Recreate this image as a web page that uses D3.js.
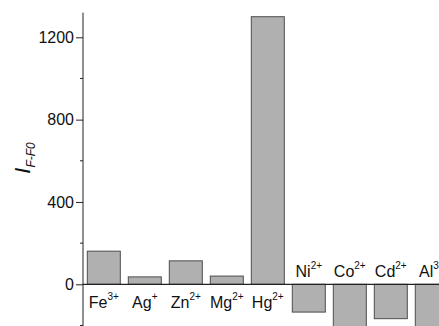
<!DOCTYPE html>
<html>
<head>
<meta charset="utf-8">
<script src="https://cdn.jsdelivr.net/npm/d3@7"></script>
<style>
  html, body { margin: 0; padding: 0; background: #fff; }
  svg { display: block; font-family: "Liberation Sans", Arial, sans-serif; }
</style>
</head>
<body>
<div id="chart"></div>
<script>
// ions on the x axis, their charge written as a superscript
const ions = ['Fe', 'Ag', 'Zn', 'Mg', 'Hg', 'Ni', 'Co', 'Cd', 'Al'];
const charges = ['3+', '+', '2+', '2+', '2+', '2+', '2+', '2+', '3+'];
// I(F-F0) (Co and Al run off the bottom edge)
const values = [161, 36, 114, 40, 1300, -135, -250, -167, -290];
const majorTicks = [0, 400, 800, 1200];
const minorTicks = [-200, 200, 600, 1000];

const width = 439, height = 326;
const axisX = 83;

const svg = d3.select('#chart').append('svg')
    .attr('width', width)
    .attr('height', height);

const x = d3.scaleBand()
    .domain(ions)
    .range([axisX, axisX + 369.6])
    .paddingInner(0.195)
    .paddingOuter(0.105);

const y = d3.scaleLinear()
    .domain([0, 1200])
    .range([284.3, 37.3]);

// bars
svg.append('g').selectAll('rect')
    .data(ions)
    .join('rect')
    .attr('x', (d) => x(d))
    .attr('width', x.bandwidth())
    .attr('y', (d, i) => y(Math.max(0, values[i])))
    .attr('height', (d, i) => Math.abs(y(values[i]) - y(0)))
    .attr('fill', '#b0b0b0')
    .attr('stroke', '#4d4d4d')
    .attr('stroke-width', 1);

// zero line across the plot
svg.append('line')
    .attr('x1', axisX)
    .attr('x2', width)
    .attr('y1', y(0))
    .attr('y2', y(0))
    .attr('stroke', '#222')
    .attr('stroke-width', 1.2);

// y axis
const yAxis = d3.axisLeft(y)
    .tickValues(majorTicks)
    .tickFormat(d3.format('d'))
    .tickSize(7)
    .tickPadding(2)
    .tickSizeOuter(0);

const ag = svg.append('g')
    .attr('transform', `translate(${axisX},0)`)
    .call(yAxis);
ag.select('.domain').remove();
ag.selectAll('line').attr('stroke', '#222');
ag.selectAll('text')
    .attr('fill', '#111')
    .attr('font-size', '16px');

svg.append('line')
    .attr('x1', axisX).attr('x2', axisX)
    .attr('y1', y(1320)).attr('y2', y(-220))
    .attr('stroke', '#222')
    .attr('stroke-width', 1);

svg.append('g').selectAll('line')
    .data(minorTicks)
    .join('line')
    .attr('x1', axisX - 3)
    .attr('x2', axisX)
    .attr('y1', (d) => y(d))
    .attr('y2', (d) => y(d))
    .attr('stroke', '#222');

// category labels: below the line for positive bars, above for negative
const labels = svg.append('g').selectAll('text')
    .data(ions)
    .join('text')
    .attr('x', (d) => x(d) + x.bandwidth() / 2)
    .attr('y', (d, i) => values[i] >= 0 ? 308 : 277)
    .attr('text-anchor', 'middle')
    .attr('font-size', '16px')
    .attr('fill', '#111');

labels.append('tspan').text((d) => d);
labels.append('tspan')
    .attr('dy', -8)
    .attr('font-size', '10px')
    .text((d, i) => charges[i]);

// y axis title
const title = svg.append('text')
    .attr('transform', 'translate(30,158) rotate(-90)')
    .attr('text-anchor', 'middle')
    .attr('font-style', 'italic')
    .attr('fill', '#111');
title.append('tspan').attr('font-size', '22px').text('I');
title.append('tspan')
    .attr('font-size', '12px')
    .attr('dy', 5)
    .text('F-F0');
</script>
</body>
</html>
